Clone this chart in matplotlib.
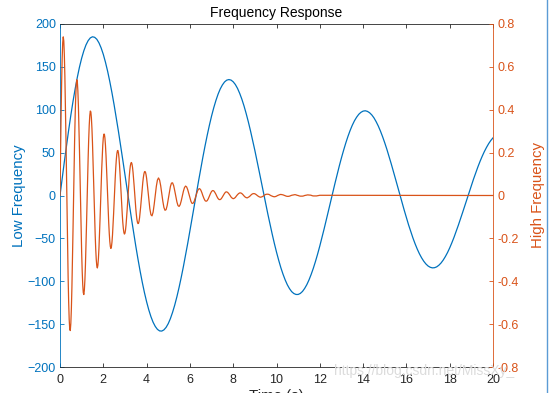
import numpy as np
import matplotlib
matplotlib.use("Agg")
import matplotlib.pyplot as plt
from matplotlib.lines import Line2D

plt.rcParams['font.family'] = ['Liberation Sans', 'DejaVu Sans']

BLUE = '#0072BD'
ORANGE = '#D95319'

# Low frequency trace, read every 0.1 s from 0 to 20 s (left axis)
low_freq = [
    0.0, 19.9, 39.3, 58.2, 76.3, 93.5, 109.6, 124.4, 137.8, 149.8,
    160.1, 168.7, 175.6, 180.6, 183.8, 185.1, 184.5, 182.2, 178.0, 172.1,
    164.6, 155.4, 144.9, 132.9, 119.8, 105.6, 90.5, 74.7, 58.2, 41.4,
    24.3, 7.1, -9.9, -26.8, -43.1, -58.9, -73.9, -88.1, -101.2, -113.2,
    -123.9, -133.3, -141.3, -147.8, -152.7, -156.1, -157.9, -158.1, -156.7, -153.8,
    -149.4, -143.5, -136.2, -127.7, -118.0, -107.2, -95.4, -82.8, -69.5, -55.7,
    -41.4, -26.9, -12.2, 2.5, 16.9, 31.1, 44.8, 57.9, 70.3, 81.9,
    92.6, 102.2, 110.7, 118.1, 124.2, 128.9, 132.4, 134.5, 135.2, 134.6,
    132.6, 129.4, 124.9, 119.1, 112.3, 104.4, 95.5, 85.8, 75.3, 64.2,
    52.6, 40.5, 28.1, 15.6, 3.1, -9.3, -21.6, -33.5, -44.9, -55.8,
    -66.0, -75.4, -84.1, -91.7, -98.4, -104.1, -108.6, -112.1, -114.3, -115.4,
    -115.4, -114.2, -111.9, -108.4, -104.0, -98.5, -92.1, -84.9, -76.9, -68.2,
    -58.9, -49.1, -38.9, -28.5, -17.8, -7.1, 3.6, 14.1, 24.4, 34.4,
    43.9, 52.8, 61.2, 68.9, 75.8, 81.9, 87.1, 91.3, 94.7, 97.0,
    98.4, 98.8, 98.1, 96.5, 94.0, 90.6, 86.2, 81.1, 75.2, 68.6,
    61.4, 53.7, 45.5, 36.9, 28.1, 19.0, 9.9, 0.7, -8.3, -17.2,
    -25.9, -34.2, -42.0, -49.4, -56.2, -62.4, -67.9, -72.6, -76.6, -79.8,
    -82.2, -83.7, -84.4, -84.2, -83.2, -81.3, -78.7, -75.3, -71.2, -66.5,
    -61.1, -55.1, -48.7, -41.8, -34.6, -27.2, -19.5, -11.7, -3.9, 3.9,
    11.6, 19.1, 26.3, 33.2, 39.7, 45.7, 51.2, 56.1, 60.5, 64.2,
    67.2]

# High frequency trace in thousandths (right axis)
# every 0.025 s from 0 to 3.975 s
high_fine = [
    0, 195, 374, 525, 640, 713, 740, 721, 658, 556,
    423, 266, 97, -74, -236, -379, -496, -579, -624, -630,
    -597, -529, -429, -305, -166, -19, 124, 257, 370, 458,
    516, 540, 531, 489, 418, 323, 210, 88, -37, -157,
    -264, -352, -416, -453, -462, -441, -394, -324, -236, -135,
    -28, 77, 175, 261, 327, 372, 394, 390, 362, 313,
    246, 165, 76, -15, -103, -183, -250, -299, -329, -338,
    -325, -293, -244, -181, -109, -31, 46, 119, 183, 234,
    269, 286, 286, 268, 234, 187, 129, 64, -2, -67,
    -127, -176, -214, -238, -247, -240, -218, -184, -139, -87,
    -30, 26, 80, 128, 166, 194, 208, 210, 198, 175,
    141, 100, 53, 5, -43, -87, -125, -153, -172, -180,
    -176, -162, -138, -106, -69, -28, 14, 54, 89, 118,
    139, 151, 154, 147, 131, 107, 77, 44, 8, -27,
    -60, -88, -110, -124, -131, -130, -120, -104, -81, -54,
    -24, 6, 35, 62, 84, 100, 110, 112, 108, 97]
# every 0.05 s from 4 to 12 s
high_coarse = [
    81, 35, -16, -62, -90, -95, -78, -42, 2, 43,
    72, 82, 72, 46, 9, -27, -56, -69, -66, -47,
    -17, 15, 42, 58, 59, 46, 22, -5, -30, -47,
    -51, -43, -25, -2, 20, 37, 44, 40, 27, 8,
    -12, -28, -37, -36, -27, -11, 6, 21, 30, 32,
    26, 14, -1, -14, -24, -27, -24, -15, -3, 9,
    19, 23, 22, 15, 6, -5, -14, -19, -19, -15,
    -7, 2, 10, 16, 17, 14, 8, 1, -7, -12,
    -15, -13, -9, -2, 4, 9, 12, 12, 9, 4,
    -2, -7, -10, -11, -8, -5, 0, 5, 8, 9,
    8, 5, 1, -3, -6, -8, -7, -5, -2, 2,
    5, 6, 6, 5, 2, -1, -3, -5, -6, -5,
    -3, 0, 2, 4, 5, 4, 3, 1, -1, -3,
    -4, -4, -3, -1, 1, 2, 3, 4, 3, 1,
    0, -2, -3, -3, -3, -2, 0, 1, 2, 3,
    2, 2, 1, -1, -2, -2, -2, -2, -1, 0,
    1]
# flat to the end
tail_t = [20]
tail_val = [0]

x_ticks = [0, 2, 4, 6, 8, 10, 12, 14, 16, 18, 20]
left_ticks = [-200, -150, -100, -50, 0, 50, 100, 150, 200]
right_ticks = [-0.8, -0.6, -0.4, -0.2, 0, 0.2, 0.4, 0.6, 0.8]
right_labels = ['-0.8', '-0.6', '-0.4', '-0.2', '0', '0.2', '0.4', '0.6', '0.8']

t_low = np.linspace(0, 20, len(low_freq))
t_high = np.concatenate([np.arange(len(high_fine))*0.025,
                         4 + np.arange(len(high_coarse))*0.05, tail_t])
high_freq = np.array(high_fine + high_coarse + tail_val)/1000.

fig = plt.figure(figsize=(5.49, 3.93), dpi=100)
ax = fig.add_axes([60/549, 26/393, 433/549, 343/393])
ax2 = ax.twinx()

ax.plot(t_low, low_freq, color=BLUE, lw=0.9)
ax2.plot(t_high, high_freq, color=ORANGE, lw=0.9)

ax.set_xlim(0, 20)
ax.set_ylim(-200, 200)
ax2.set_ylim(-0.8, 0.8)
ax.set_xticks(x_ticks)
ax.set_yticks(left_ticks)
ax2.set_yticks(right_ticks)
ax2.set_yticklabels(right_labels)

ax.tick_params(axis='x', direction='in', top=True, length=3, width=0.6,
               colors='#262626', labelsize=9, pad=5)
ax.tick_params(axis='y', direction='in', length=3, width=0.6,
               colors=BLUE, labelsize=9, pad=3)
ax2.tick_params(axis='y', direction='in', length=3, width=0.6,
                colors=ORANGE, labelsize=9, pad=3)

for s in ['top', 'bottom']:
    ax.spines[s].set_color('#262626')
    ax.spines[s].set_linewidth(0.6)
ax.spines['left'].set_color(BLUE)
ax.spines['left'].set_linewidth(0.6)
ax.spines['right'].set_visible(False)
for s in ['top', 'bottom', 'left']:
    ax2.spines[s].set_visible(False)
ax2.spines['right'].set_color(ORANGE)
ax2.spines['right'].set_linewidth(0.6)

ax.set_title('Frequency Response', fontsize=10, color='black', pad=5)
ax.set_ylabel('Low Frequency', fontsize=10.8, color=BLUE, labelpad=1)
ax2.set_ylabel('High Frequency', fontsize=10.8, color=ORANGE, labelpad=9)
ax.set_xlabel('Time (s)', fontsize=10.8, color='#262626', labelpad=2)

# watermark and screenshot edge
fig.text(334/549, 1 - 371/393, 'https://blog.csdn.net/MissXy_', fontsize=10,
         color='#dcdcdc', va='center', ha='left')
fig.add_artist(Line2D([546.5/549, 546.5/549], [0, 1], color='#5b9bd5', lw=1))

fig.savefig('out.png', dpi=100)
